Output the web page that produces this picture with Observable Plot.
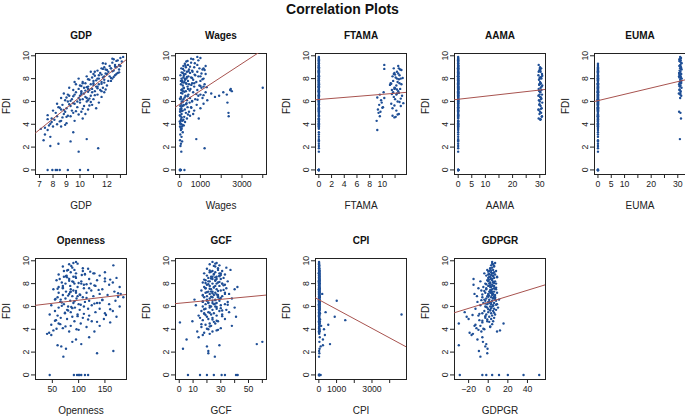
<!DOCTYPE html>
<html>
<head>
<meta charset="utf-8">
<script src="https://cdn.jsdelivr.net/npm/d3@7"></script>
<script src="https://cdn.jsdelivr.net/npm/@observablehq/plot@0.6"></script>
<style>
  html, body { margin: 0; padding: 0; background: #fff; }
  #wrap { position: relative; width: 685px; height: 416px; overflow: hidden; font-family: "Liberation Sans", Arial, sans-serif; }
  #title { position: absolute; left: 0; top: 1px; width: 685px; text-align: center; font-weight: bold; font-size: 14px; color: #111; }
  .panel { position: absolute; }
</style>
</head>
<body>
<div id="wrap"><div id="title">Correlation Plots</div></div>
<script>
// Shared FDI observations (one value per country-year)
const FDI = [
  0,0,0,0,0,0,0,0,1.6,1.9,2.1,2.3,2.5,2.6,2.7,2.9,3.1,3.3,3.5,3.6,
  3.7,3.8,3.8,3.9,4.0,4.1,4.2,4.3,4.3,4.4,4.5,4.5,4.6,4.7,4.7,4.8,4.9,4.9,5.0,5.0,
  5.1,5.1,5.2,5.2,5.3,5.3,5.4,5.4,5.5,5.5,5.6,5.6,5.7,5.7,5.8,5.8,5.9,5.9,6.0,6.0,
  6.0,6.1,6.1,6.2,6.2,6.2,6.3,6.3,6.4,6.4,6.5,6.5,6.5,6.6,6.6,6.7,6.7,6.8,6.8,6.8,
  6.9,6.9,7.0,7.0,7.0,7.1,7.1,7.2,7.2,7.2,7.3,7.3,7.4,7.4,7.5,7.5,7.5,7.6,7.6,7.7,
  7.7,7.7,7.8,7.8,7.9,7.9,8.0,8.0,8.0,8.1,8.1,8.2,8.2,8.3,8.3,8.4,8.4,8.5,8.5,8.6,
  8.6,8.7,8.7,8.8,8.8,8.9,8.9,9.0,9.0,9.1,9.1,9.2,9.2,9.3,9.4,9.5,9.6,9.7,9.8,9.9,
  4.05,4.65,5.15,5.45,5.75,5.95,6.15,6.35,6.55,6.75,6.95,7.15,7.35,7.55,7.85,8.05,8.25,8.45,8.65,8.85,
  3.95,4.45,4.85,5.25,5.65,6.05,6.25,6.45,6.65,6.85,7.05,7.25,7.45,7.65,7.95,8.15,8.35,8.55,8.75,9.05,
  4.25,4.75,5.35,5.85,6.3,6.6,6.9,7.1,7.3,7.6,7.8,8.0,8.2,8.4,8.6,8.9,9.15,9.35,9.55,9.75
];
const GDP = [
  7.6,7.95,8.2,8.5,10.0,10.6,8.3,9.1,9.9,11.35,7.8,8.4,9.3,7.3,10.5,7.8,7.4,9.5,7.6,7.1,
  7.4,8.0,8.6,7.7,8.3,9.0,7.9,8.6,9.6,8.1,7.9,10.2,8.7,8.3,9.3,7.6,8.8,10.4,8.2,9.5,
  8.9,10.1,8.0,9.4,8.6,10.6,9.0,11.2,8.4,9.8,9.3,10.3,8.7,10.9,9.6,8.3,10.0,11.4,9.1,10.5,
  9.8,8.9,10.6,9.4,10.2,11.0,8.6,9.9,10.4,11.6,9.2,10.0,10.8,9.6,11.3,8.8,10.3,9.7,10.9,11.8,
  10.1,11.1,9.5,10.7,11.5,9.9,10.9,10.3,11.7,9.2,10.6,11.2,10.0,12.0,10.8,9.7,11.4,10.4,11.0,9.6,
  11.6,10.2,11.0,12.1,10.7,11.8,11.3,9.9,12.4,10.9,11.7,12.2,10.5,11.4,12.6,11.0,12.0,11.5,12.8,10.8,
  12.1,11.3,12.5,11.9,12.9,11.6,12.3,12.7,11.8,13.0,12.2,12.6,12.9,11.9,12.4,13.1,12.8,12.5,13.0,13.2,
  7.8,9.0,9.7,8.5,9.2,10.8,10.0,9.0,11.1,10.1,10.4,11.3,10.1,11.6,11.2,12.3,11.1,11.9,12.4,11.7,
  8.9,7.6,9.9,8.8,10.7,9.3,10.7,9.5,10.1,10.6,11.9,10.5,11.0,11.8,10.6,12.5,11.6,12.9,12.0,12.6,
  8.5,9.1,10.2,9.5,10.5,9.1,11.6,10.6,11.3,10.2,12.3,11.4,11.8,12.7,11.1,12.3,12.9,11.7,12.7,12.4
];
const Wages = [
  30,230,20,60,10,40,15,25,80,1200,40,60,120,20,800,90,30,150,60,100,
  50,120,20,200,80,30,260,140,60,180,920,350,100,2360,40,10,650,90,300,2350,
  20,450,150,700,60,250,1000,80,380,550,120,30,820,200,1150,70,480,2300,160,600,
  100,350,1330,40,750,180,1100,500,1700,60,1900,280,900,2270,420,1520,130,2100,650,1250,
  2510,300,2430,80,850,2460,520,4000,200,1050,380,700,150,950,450,60,1200,300,600,230,
  800,120,400,1000,260,650,90,1150,330,550,180,900,420,40,750,280,1250,500,150,850,
  350,600,220,1100,450,80,950,300,700,180,1250,400,850,250,550,320,900,650,1000,850,
  30,220,90,560,310,130,860,240,1150,70,480,190,1000,330,120,600,200,1050,420,160,
  150,70,400,35,180,600,20,380,800,230,110,1300,560,170,1100,350,720,100,1200,500,
  5,500,40,330,60,1000,160,400,1150,700,60,260,1000,200,620,1150,280,730,380,550
];
const FTAMA = [
  0,0,0,0,0,0,0,0,0,0,0,0,0,0,0,0,0,0,9.2,0,
  0,0,0,0,0,0,0,9.1,0,0,0,0,11.9,0,9.6,0,0,12.6,9.4,0,
  9.7,0,12.2,0,9.3,0,11.6,0,0,10.1,0,12.9,0,9.5,0,11.4,0,9.9,0,12.4,
  0,9.8,0,12.0,0,0,10.3,0,11.8,0,0,13.1,0,9.6,0,12.3,0,0,10.2,11.7,
  0,12.5,0,0,11.5,0,12.8,0,0,11.9,0,0,12.2,0,0,13.0,0,11.3,0,0,
  12.4,0,0,11.7,0,0,12.9,0,0,12.1,0,11.6,0,0,12.7,0,0,11.9,0,0,
  12.3,0,0,12.8,0,0,11.8,0,0,12.5,0,10.3,0,0,0,0,0,0,0,0,
  0,12.1,0,10.0,0,12.7,0,9.2,0,12.6,0,12.0,0,11.4,0,13.2,0,12.5,0,10.3,
  0,0,12.4,0,11.9,0,12.9,0,11.5,0,12.3,0,11.2,0,12.6,0,12.0,0,13.0,0,
  0,11.6,0,13.3,0,12.2,0,11.9,0,12.7,0,12.3,0,11.8,0,12.6,0,0,0,0
];
const AAMA = [
  0,0,0,0,0,0,0,0,0,0,0,0,0,0,0,0,0,0,0,0,
  0,0,0,0,0,0,0,0,0,30.2,0,29.6,0,0,30.8,0,29.9,0,0,30.5,
  0,30.1,0,0,29.5,0,0,30.7,0,0,30.3,0,0,29.8,0,0,30.9,0,0,30.0,
  0,0,29.7,0,0,30.4,0,0,30.1,0,0,29.5,0,0,30.8,0,0,30.2,0,0,
  29.9,0,0,30.6,0,0,29.6,0,0,30.3,0,0,30.9,0,0,29.8,0,0,30.4,0,
  0,30.1,0,0,29.7,0,0,30.6,0,0,30.0,0,0,29.5,0,0,30.8,0,0,30.3,
  0,0,29.8,0,0,30.5,0,0,30.1,0,0,29.6,0,0,0,0,0,0,0,0,
  0,30.7,0,0,29.9,0,0,30.4,0,0,29.7,0,0,30.2,0,0,30.9,0,0,30.0,
  0,30.3,0,29.6,0,0,30.6,0,0,30.1,0,0,29.8,0,0,30.5,0,0,30.2,0,
  0,0,30.4,0,0,29.9,0,0,30.7,0,0,30.0,0,0,29.6,0,0,0,0,0
];
const EUMA = [
  0,0,0,0,0,0,0,0,0,0,0,0,0,0,30.8,0,0,0,0,0,
  0,0,0,0,0,0,0,0,0,0,31.2,0,0,0,0,0,0,0,31.0,0,
  30.5,0,0,0,0,0,0,0,0,0,0,0,0,0,0,0,0,0,0,0,
  0,0,0,0,0,0,30.9,0,0,0,31.3,0,0,0,0,0,30.4,0,0,0,
  31.1,0,0,30.6,0,0,0,31.4,0,0,30.8,0,0,31.0,0,0,30.5,0,0,31.3,
  30.7,0,31.2,0,30.9,0,0,31.5,0,30.6,0,31.1,0,30.8,0,0,31.3,0,30.5,0,
  31.0,0,30.7,0,31.4,0,30.9,0,31.2,0,30.6,0,31.0,0,31.3,30.8,31.1,30.6,31.2,30.9,
  0,0,0,0,0,0,0,0,0,31.0,0,0,30.6,0,0,31.2,0,30.8,0,31.3,
  0,0,0,0,0,0,0,0,0,0,30.7,0,0,31.1,0,0,30.6,0,0,31.0,
  0,0,0,0,0,30.9,0,0,0,31.2,0,0,30.5,0,0,31.1,30.8,31.4,30.6,31.0
];
const Openness = [
  45,91,100,105,118,97,102,112,71,135,166,76,67,60,105,88,95,120,48,40,
  44,82,130,52,96,70,115,140,85,48,104,62,160,92,125,57,78,148,108,66,
  88,172,60,120,45,98,150,74,132,85,55,165,102,78,140,118,62,93,178,110,
  80,125,48,100,158,72,135,90,112,65,170,84,120,55,145,96,75,185,108,60,
  128,88,70,155,103,82,140,62,115,95,168,76,124,90,52,145,85,110,70,178,
  98,62,132,84,110,158,75,92,123,68,165,88,105,135,58,82,120,95,172,72,
  90,140,77,112,62,128,95,85,150,72,108,92,80,118,88,70,166,82,90,95,
  58,135,98,74,160,86,104,68,145,115,80,175,95,60,130,100,82,150,76,112,
  100,65,118,152,80,68,130,92,56,175,102,84,138,70,115,90,160,78,106,122,
  75,55,110,88,140,66,98,180,85,120,70,105,150,64,94,130,78,108,86,98
];
const GCF = [
  6.3,20,30.6,41,42.2,25,33,15,25.7,21,21,2.7,20,29,56,60,5.3,14,17,22,
  18,24,13,27,21,30,16,23,38,19,26,22,0.5,9.5,28,17,33,21,24,15,
  41,20,27,14,23,31,18,25,36,21,29,16,24,34,19,27,22,40,17,26,
  23,30,12,25,19,33,21,27,17,35,24,20,29,11,26,22,38,18,28,24,
  20,31,25,17,28,22,36,19,26,33,21,24,16,30,23,40,27,19,34,42,
  25,18,29,22,33,20,27,24,31,17,28,22,35,26,19,30,24,21,32,27,
  23,29,20,33,25,18,30,26,22,31,24,37,28,20,34,26,29,22,27,24,
  20,25,31,22,18,27,35,21,26,30,17,24,28,22,32,19,26,23,29,25,
  28,16,24,19,31,22,26,17,29,23,27,20,32,25,21,29,18,26,30,23,
  22,27,18,30,24,20,28,33,23,19,26,31,21,27,24,29,22,28,25,26
];
const CPI = [
  100,20,10,5,15,30,8,12,10,25,15,40,100,230,630,30,230,50,340,20,
  10,50,5,20,290,15,8,30,130,530,25,40,6,18,9,1490,22,14,10,28,
  895,12,20,8,4670,35,15,60,380,10,25,7,45,18,12,30,9,22,14,40,
  15,8,25,40,12,5,30,20,9,55,1010,14,22,35,10,18,6,28,16,45,
  12,20,30,8,15,190,25,10,40,18,6,22,35,14,9,28,16,50,11,20,
  8,25,15,35,10,20,45,12,18,30,6,22,14,40,9,26,16,11,32,20,
  14,28,9,20,35,12,18,25,8,40,15,22,10,30,16,12,20,8,14,10,
  20,60,12,25,8,30,16,45,10,22,35,14,18,28,9,20,12,15,24,10,
  40,18,70,10,25,14,30,8,20,35,12,18,26,15,22,10,28,16,12,20,
  30,15,22,45,10,18,25,12,35,20,14,28,9,16,22,11,18,12,15,8
];
const GDPGR = [
  -29,-6,-2,4,11,20,36,52,-8,-1,-9.5,-0.7,-3,-30,-2,-5.4,-11,-6,-17,-15.6,
  -19,9,-7,12,-4,-12,2,-8,-14,-13,-30,15.6,-6,5,-1,-9,3,-20,6,-3,
  -22,1,-10,4,-2,7,-6,3,-24,0,5,-4,8,2,-13,6,-1,10,-3,4,
  2,-8,5,-1,9,3,-5,6,0,-11,4,8,-3,1,11,5,-2,7,-6,3,
  -1,-11.5,4,7,0,-14,5,2,9,-3,6,1,-7,3,8,-2,4,-10,6,2,
  3,-5,6,0,-15,4,8,1,-3,5,2,-8,7,-1,4,-15,3,6,0,9,
  2,5,-2,7,0,4,-4,6,3,1,8,-1,5,2,4,6,3,5,7,4,
  -5,1,-3,6,0,-2,8,3,-7,5,1,4,-4,7,2,6,0,3,5,1,
  -10,4,-1,-16,2,5,-3,1,7,0,-6,4,2,8,-2,5,1,9,3,0,
  2,-6,-9,3,1,-4,6,0,3,-2,5,2,0,4,1,5,3,2,6,4
];

// Panel names, in reading order
const panelNames = ["GDP","Wages","FTAMA","AAMA","EUMA","Openness","GCF","CPI","GDPGR"];
const panelX = [GDP, Wages, FTAMA, AAMA, EUMA, Openness, GCF, CPI, GDPGR];
// Axis ranges (with R's 4% padding)
const xDomains = [[6.7,13.45],[-200,4180],[-0.53,13.8],[-1.35,32.1],[-1.3,32.9],[18,191],[-2.7,63],[-190,4950],[-34.4,58.4]];
// Tick positions and which of them carry a label
const xTicks = [
  [7,8,9,10,11,12,13],
  [0,1000,2000,3000,4000],
  [0,2,4,6,8,10,12],
  [0,5,10,15,20,25,30],
  [0,5,10,15,20,25,30],
  [50,100,150],
  [0,10,20,30,40,50,60],
  [0,1000,2000,3000,4000],
  [-20,0,20,40]
];
const xTickLabels = [
  [7,8,9,10,12],
  [0,1000,3000],
  [0,2,4,6,8,10],
  [0,5,10,20,30],
  [0,5,10,20,30],
  [50,100,150],
  [0,10,30,50],
  [0,1000,3000],
  [-20,0,20,40]
];
const yTicks = [0,2,4,6,8,10];
// Fitted regression lines: FDI = intercept + slope * x
const intercepts = [-3.14, 5.75, 6.17, 6.19, 6.07, 6.0, 6.28, 6.59, 6.36];
const slopes = [0.953, 0.00119, 0.0454, 0.0269, 0.0556, 0.00549, 0.0114, -0.000837, 0.0264];

const wrap = document.getElementById("wrap");
const font = '"Liberation Sans", Arial, sans-serif';
const fmtMinus = v => String(v).replace("-", "\u2212");

panelNames.forEach((name, i) => {
  const row = i < 5 ? 0 : 1;
  const col = i < 5 ? i : i - 5;
  const xs = panelX[i];
  const pts = FDI.map((y, k) => ({x: xs[k], y}));
  const dom = xDomains[i];
  const lineData = dom.map(x => ({x, y: intercepts[i] + slopes[i] * x}));
  const labels = xTickLabels[i];
  const chart = Plot.plot({
    width: 140,
    height: 193,
    marginLeft: 35,
    marginRight: 14,
    marginTop: 32,
    marginBottom: 40,
    style: {fontFamily: font, fontSize: "8.5px", color: "#222", background: "transparent", overflow: "visible"},
    x: {domain: dom},
    y: {domain: [-0.4, 10.2]},
    marks: [
      Plot.frame({stroke: "#222", strokeWidth: 1}),
      Plot.axisX({ticks: xTicks[i], tickSize: 4, tickPadding: 2.5, tickFormat: d => labels.includes(d) ? fmtMinus(d) : "", label: null, fontSize: 8.7}),
      Plot.axisY({ticks: yTicks, tickSize: 4, tickPadding: 3, tickRotate: -90, label: null, fontSize: 8.7}),
      Plot.dot(pts, {x: "x", y: "y", r: 1.2, fill: "#1f4f96", stroke: "none"}),
      Plot.line(lineData, {x: "x", y: "y", stroke: "#a8534f", strokeWidth: 1, clip: true}),
      Plot.text([name], {text: d => d, frameAnchor: "top", lineAnchor: "middle", dy: -17.5, fontWeight: "bold", fontSize: 10, fill: "#111"}),
      Plot.text([name], {text: d => d, frameAnchor: "bottom", lineAnchor: "middle", dy: 31, fontSize: 10, fill: "#222"}),
      Plot.text(["FDI"], {text: d => d, frameAnchor: "left", dx: -29, rotate: -90, fontSize: 10, fill: "#222"})
    ]
  });
  chart.classList.add("panel");
  chart.style.left = (col * 139.8) + "px";
  chart.style.top = (row === 0 ? 20.5 : 226) + "px";
  wrap.appendChild(chart);
});
</script>
</body>
</html>
